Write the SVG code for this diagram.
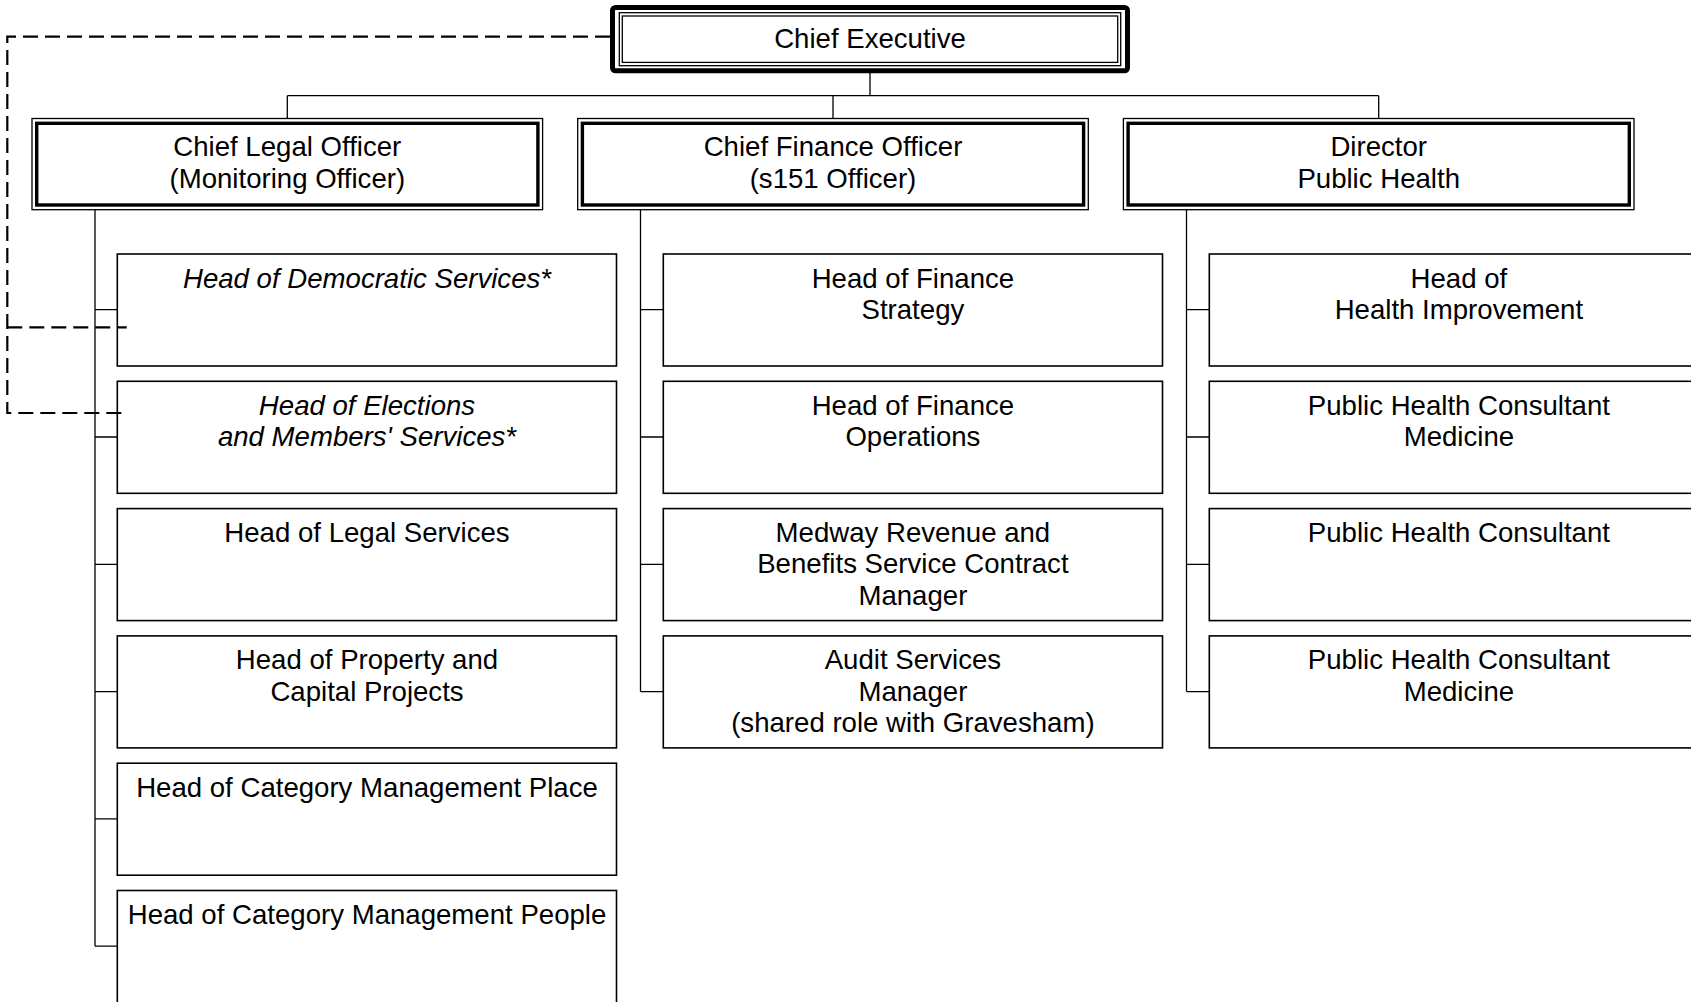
<svg xmlns="http://www.w3.org/2000/svg" width="1691" height="1002" viewBox="0 0 1691 1002">
<style>
  text { font-family: "Liberation Sans", Arial, sans-serif; font-size: 27.6px; fill: #000; text-anchor: middle; }
  .it { font-style: italic; }
  .box { fill: #fff; stroke: #000; stroke-width: 1.6; }
  .thin { fill: #fff; stroke: #000; stroke-width: 1.3; }
  .thick { fill: none; stroke: #000; stroke-width: 3.4; }
  .ce { fill: #fff; stroke: #000; stroke-width: 5; }
  .conn { fill: none; stroke: #000; stroke-width: 1.3; }
  .dash { fill: none; stroke: #000; stroke-width: 2.2; stroke-dasharray: 15 7; }
</style>
<rect width="1691" height="1002" fill="#fff"/>

<g id="connectors">
  <path class="conn" d="M870,73 V95.7 M287.3,95.7 H1378.7 M287.3,95.7 V118.5 M833,95.7 V118.5 M1378.7,95.7 V118.5"/>
  <path class="conn" d="M95,210 V946.2 M95,309.7 H117.3 M95,437 H117.3 M95,564.3 H117.3 M95,691.6 H117.3 M95,818.9 H117.3 M95,946.2 H117.3"/>
  <path class="conn" d="M640.5,210 V691.6 M640.5,309.7 H663.3 M640.5,437 H663.3 M640.5,564.3 H663.3 M640.5,691.6 H663.3"/>
  <path class="conn" d="M1186.5,210 V691.6 M1186.5,309.7 H1209.3 M1186.5,437 H1209.3 M1186.5,564.3 H1209.3 M1186.5,691.6 H1209.3"/>
</g>

<g id="ce">
  <rect class="ce" x="612.5" y="7.5" width="515" height="63.3" rx="3"/>
  <rect class="thin" x="619.3" y="12.7" width="501.4" height="53"/>
  <rect class="thin" x="622.3" y="16" width="495.4" height="46.4"/>
  <text x="870" y="48.3">Chief Executive</text>
</g>

<g id="clo">
  <rect class="thin" x="32" y="118.5" width="510.6" height="91.2"/>
  <rect class="thick" x="36.7" y="123.3" width="501.2" height="81.7"/>
  <text x="287.3" y="156">Chief Legal Officer</text>
  <text x="287.3" y="187.5">(Monitoring Officer)</text>
</g>
<g id="cfo">
  <rect class="thin" x="577.7" y="118.5" width="510.6" height="91.2"/>
  <rect class="thick" x="582.4" y="123.3" width="501.2" height="81.7"/>
  <text x="833" y="156">Chief Finance Officer</text>
  <text x="833" y="187.5">(s151 Officer)</text>
</g>
<g id="dph">
  <rect class="thin" x="1123.4" y="118.5" width="510.6" height="91.2"/>
  <rect class="thick" x="1128.1" y="123.3" width="501.2" height="81.7"/>
  <text x="1378.7" y="156">Director</text>
  <text x="1378.7" y="187.5">Public Health</text>
</g>

<g id="democratic">
  <rect class="box" x="117.3" y="254" width="499.2" height="112"/>
  <text class="it" x="367" y="287.5">Head of Democratic Services*</text>
</g>
<g id="elections">
  <rect class="box" x="117.3" y="381.3" width="499.2" height="112"/>
  <text class="it" x="367" y="414.8">Head of Elections</text>
  <text class="it" x="367" y="446.1">and Members' Services*</text>
</g>
<g id="legal">
  <rect class="box" x="117.3" y="508.6" width="499.2" height="112"/>
  <text x="367" y="542.1">Head of Legal Services</text>
</g>
<g id="property">
  <rect class="box" x="117.3" y="635.9" width="499.2" height="112"/>
  <text x="367" y="669.4">Head of Property and</text>
  <text x="367" y="700.7">Capital Projects</text>
</g>
<g id="cat-place">
  <rect class="box" x="117.3" y="763.2" width="499.2" height="112"/>
  <text x="367" y="796.7">Head of Category Management Place</text>
</g>
<g id="cat-people">
  <rect class="box" x="117.3" y="890.5" width="499.2" height="118"/>
  <text x="367" y="924">Head of Category Management People</text>
</g>

<g id="fin-strategy">
  <rect class="box" x="663.3" y="254" width="499.2" height="112"/>
  <text x="912.9" y="287.5">Head of Finance</text>
  <text x="912.9" y="318.8">Strategy</text>
</g>
<g id="fin-ops">
  <rect class="box" x="663.3" y="381.3" width="499.2" height="112"/>
  <text x="912.9" y="414.8">Head of Finance</text>
  <text x="912.9" y="446.1">Operations</text>
</g>
<g id="medway">
  <rect class="box" x="663.3" y="508.6" width="499.2" height="112"/>
  <text x="912.9" y="542.1">Medway Revenue and</text>
  <text x="912.9" y="573.4">Benefits Service Contract</text>
  <text x="912.9" y="604.7">Manager</text>
</g>
<g id="audit">
  <rect class="box" x="663.3" y="635.9" width="499.2" height="112"/>
  <text x="912.9" y="669.4">Audit Services</text>
  <text x="912.9" y="700.7">Manager</text>
  <text x="912.9" y="732">(shared role with Gravesham)</text>
</g>

<g id="health-improvement">
  <rect class="box" x="1209.3" y="254" width="499.2" height="112"/>
  <text x="1458.9" y="287.5">Head of</text>
  <text x="1458.9" y="318.8">Health Improvement</text>
</g>
<g id="phc-medicine-1">
  <rect class="box" x="1209.3" y="381.3" width="499.2" height="112"/>
  <text x="1458.9" y="414.8">Public Health Consultant</text>
  <text x="1458.9" y="446.1">Medicine</text>
</g>
<g id="phc">
  <rect class="box" x="1209.3" y="508.6" width="499.2" height="112"/>
  <text x="1458.9" y="542.1">Public Health Consultant</text>
</g>
<g id="phc-medicine-2">
  <rect class="box" x="1209.3" y="635.9" width="499.2" height="112"/>
  <text x="1458.9" y="669.4">Public Health Consultant</text>
  <text x="1458.9" y="700.7">Medicine</text>
</g>

<g id="dotted-connectors">
  <path class="dash" d="M610,36.7 H7.3 V413 H126.7 M7.3,327.3 H126.7"/>
</g>
</svg>
